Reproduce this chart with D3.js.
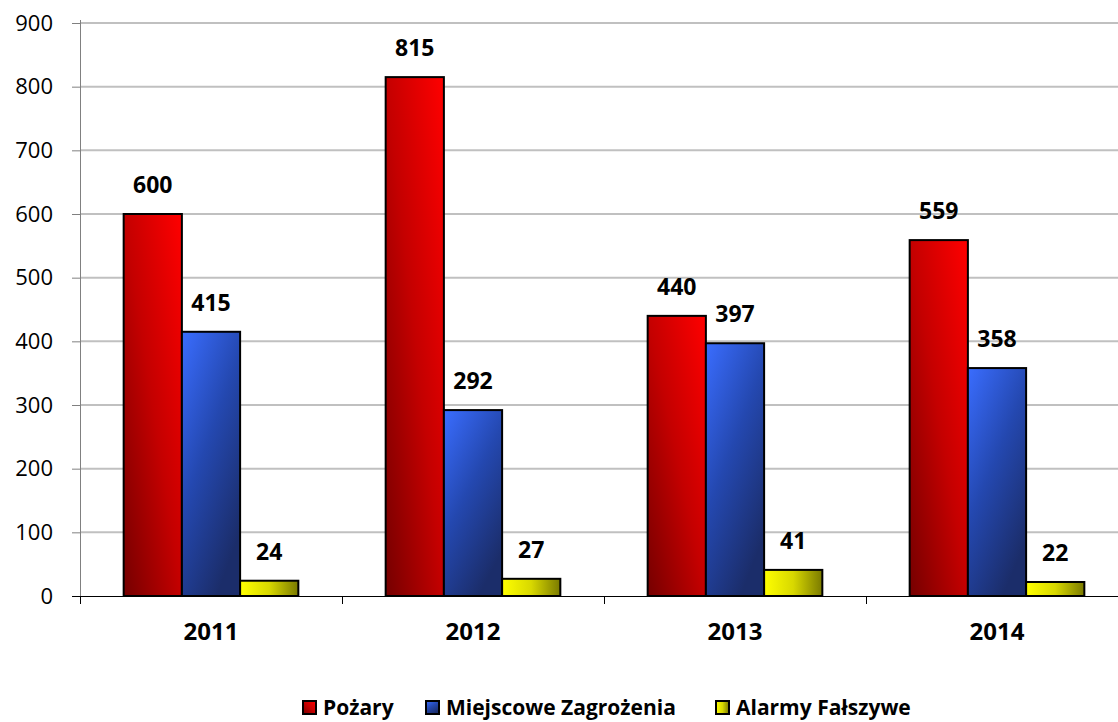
<!DOCTYPE html>
<html>
  <head>
    <meta charset="utf-8">
    <title>Interwencje 2011-2014</title>
    <script src="https://d3js.org/d3.v7.min.js"></script>
    <style>
      body { margin: 0; background: #fff; }
      svg { display: block; font-family: "Open Sans", sans-serif; }
      .grid line { stroke: #c0c0c0; stroke-width: 2; }
      .yAxis path, .yAxis line { stroke: #808080; }
      .xAxis path, .xAxis line { stroke: #000; }
      .label { font-size: 23px; font-weight: bold; text-anchor: middle; }
      .legend text { font-size: 21px; font-weight: bold; }
    </style>
  </head>
  <body>
    <svg id="chart" width="1118" height="722"></svg>
    <script>
      // data
      var years = ["2011", "2012", "2013", "2014"];
      var series = ["Pożary", "Miejscowe Zagrożenia", "Alarmy Fałszywe"];
      var pozary = [600, 815, 440, 559];
      var miejscowe = [415, 292, 397, 358];
      var alarmy = [24, 27, 41, 22];
      var yTicks = [0, 100, 200, 300, 400, 500, 600, 700, 800, 900];

      var values = [pozary, miejscowe, alarmy];
      var margin = { top: 23, left: 80, right: -10, bottom: 126 };
      var width = 1118 - margin.left - margin.right;
      var height = 722 - margin.top - margin.bottom;

      var svg = d3.select("#chart");
      var defs = svg.append("defs");

      // gradients, one per series
      var grads = [
        { id: "gRed", x1: "0%", y1: "100%", x2: "100%", y2: "0%", stops: ["#750000", "#c40000", "#ff0000"] },
        { id: "gBlue", x1: "0%", y1: "0%", x2: "60%", y2: "100%", stops: ["#3a6dff", "#2448b0", "#1b2d6a"] },
        { id: "gYellow", x1: "0%", y1: "0%", x2: "100%", y2: "0%", stops: ["#ffff00", "#d8d800", "#7a7a00"] }
      ];
      grads.forEach(function(g) {
        var lg = defs.append("linearGradient")
          .attr("id", g.id)
          .attr("x1", g.x1).attr("y1", g.y1)
          .attr("x2", g.x2).attr("y2", g.y2);
        g.stops.forEach(function(c, i) {
          lg.append("stop")
            .attr("offset", (i / (g.stops.length - 1)) * 100 + "%")
            .attr("stop-color", c);
        });
      });
      var fills = ["url(#gRed)", "url(#gBlue)", "url(#gYellow)"];

      var g = svg.append("g")
        .attr("transform", "translate(" + margin.left + "," + margin.top + ")");

      var y = d3.scaleLinear().domain([0, 900]).range([height, 0]);
      var x0 = d3.scaleBand().domain(years).range([0, width]);
      // gap width 150% of a bar: 3 bars + 1.5 bar gap
      var barW = x0.bandwidth() / 4.5;
      var x1 = d3.scaleBand().domain(series).range([0, barW * 3]);

      // gridlines
      g.append("g")
        .attr("class", "grid")
        .selectAll("line")
          .data(yTicks.filter(function(d) { return d > 0; }))
        .enter().append("line")
          .attr("x1", 0)
          .attr("x2", 1118)
          .attr("y1", function(d) { return y(d); })
          .attr("y2", function(d) { return y(d); });

      // y axis
      var yAxis = g.append("g")
        .attr("class", "yAxis")
        .call(d3.axisLeft(y).tickValues(yTicks).tickSize(8).tickSizeOuter(0).tickPadding(19))
        .attr("font-family", null)
        .attr("font-size", null);
      yAxis.select(".domain").attr("d", "M0.5,-3V" + (height + 7));
      yAxis.selectAll("text")
        .style("font-size", "22px")
        .style("fill", "#000");

      // x axis
      var xAxis = g.append("g")
        .attr("class", "xAxis")
        .attr("transform", "translate(0," + height + ")")
        .call(d3.axisBottom(x0).tickSize(0).tickPadding(0))
        .attr("font-family", null)
        .attr("font-size", null);
      xAxis.select(".domain").attr("d", "M-8,0.5H1118");
      xAxis.selectAll("text")
        .attr("dy", null)
        .attr("y", 44)
        .style("font-size", "24px")
        .style("font-weight", "bold")
        .style("fill", "#000");
      xAxis.selectAll(".sep")
        .data(years)
        .enter().append("line")
          .attr("x1", function(d) { return Math.round(x0(d)) + 0.5; })
          .attr("x2", function(d) { return Math.round(x0(d)) + 0.5; })
          .attr("y1", 0)
          .attr("y2", 8);

      // bars
      var groups = g.selectAll(".year")
          .data(years)
        .enter().append("g")
          .attr("class", "year")
          .attr("transform", function(d) {
            return "translate(" + (x0(d) + (x0.bandwidth() - barW * 3) / 2) + ",0)";
          });

      series.forEach(function(s, si) {
        groups.append("rect")
          .attr("x", x1(s))
          .attr("width", x1.bandwidth())
          .attr("y", function(d, i) { return y(values[si][i]); })
          .attr("height", function(d, i) { return height - y(values[si][i]); })
          .attr("fill", fills[si])
          .attr("stroke", "#000")
          .attr("stroke-width", 2);
        groups.append("text")
          .attr("class", "label")
          .attr("x", x1(s) + x1.bandwidth() / 2)
          .attr("y", function(d, i) { return y(values[si][i]) - 21; })
          .text(function(d, i) { return values[si][i]; });
      });

      // legend
      var legendX = [302, 425, 715];
      var legend = svg.append("g")
        .attr("class", "legend")
        .selectAll("g")
          .data(series)
        .enter().append("g")
          .attr("transform", function(d, i) { return "translate(" + legendX[i] + ",700)"; });
      legend.append("rect")
        .attr("x", 1)
        .attr("y", 1)
        .attr("width", 13)
        .attr("height", 13)
        .attr("fill", function(d, i) { return fills[i]; })
        .attr("stroke", "#000")
        .attr("stroke-width", 2);
      legend.append("text")
        .attr("x", 21)
        .attr("y", 15)
        .text(function(d) { return d; });
    </script>
  </body>
</html>
